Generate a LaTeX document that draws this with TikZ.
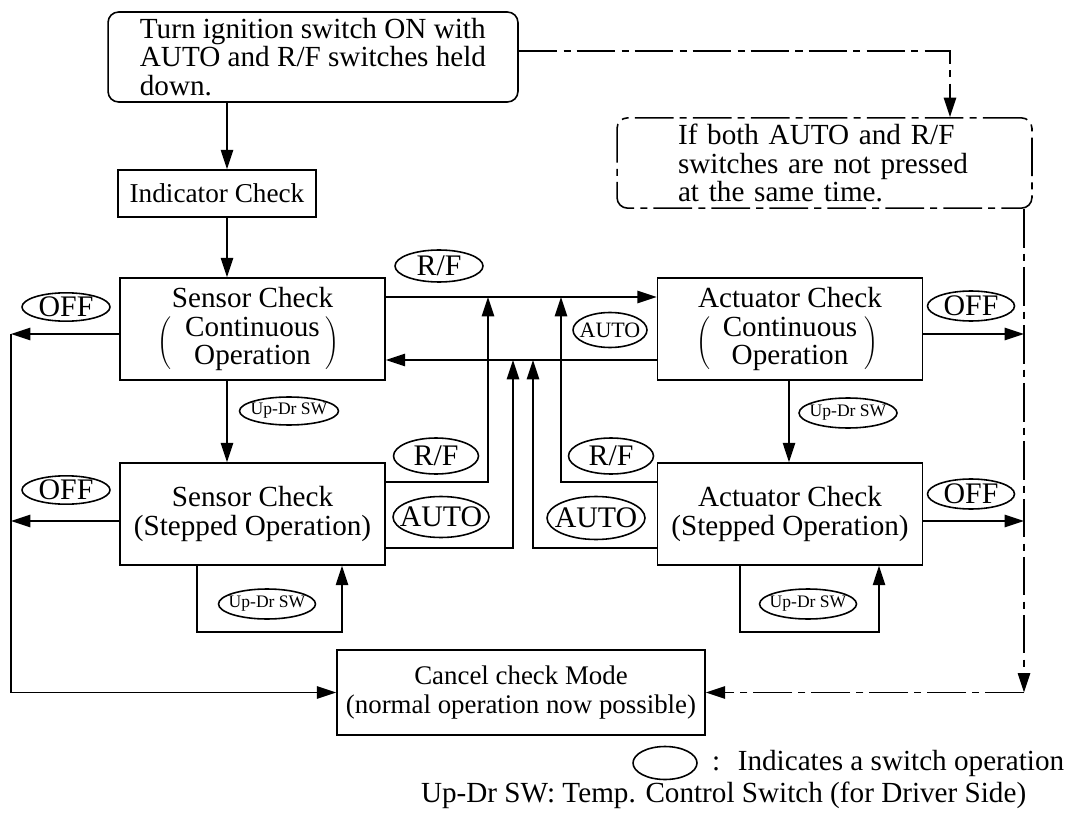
\documentclass[tikz,border=0pt]{standalone}
\usepackage{fontspec}
\setmainfont{Liberation Serif}
\usetikzlibrary{shapes.geometric}
\usetikzlibrary{arrows.meta}

\begin{document}
\begin{tikzpicture}[x=0.02cm,y=-0.02cm,>={Triangle[length=11pt,width=7pt]},line width=0.9pt,
font=\fontsize{16.6}{16.4}\selectfont,
box/.style={draw,rectangle,inner sep=0pt,minimum width=5.3cm,minimum height=2.04cm,align=center},
paren/.style={inner sep=0pt},
sw/.style 2 args={draw,ellipse,inner sep=0pt,minimum width=#1,minimum height=#2,font=\fontsize{17}{17}\selectfont},
chainline/.style={dash pattern=on 22pt off 3.5pt on 4pt off 3.5pt}]

\useasboundingbox (0,0) rectangle (1071,817);

% boxes
\node[draw,rounded corners=6pt,align=left,minimum width=8.2cm,minimum height=1.8cm] (start) at (313,57)
  {Turn ignition switch ON with\\AUTO and R/F switches held\\down.};
\node[draw,chainline,rounded corners=6pt,text width=5.86cm,inner xsep=1.22cm,minimum height=1.8cm,align=left] (nopress) at (824.5,163)
  {If both AUTO and R/F\\switches are not pressed\\at the same time.};
\node[draw,minimum width=3.96cm,minimum height=0.94cm,inner sep=0pt,font=\fontsize{15.5}{16}\selectfont] (ind) at (217,193.5) {Indicator Check};
\node[box] (sensorC) at (252.5,329) {Sensor Check\\Continuous\\Operation};
\node[box] (actC) at (790,329) {Actuator Check\\Continuous\\Operation};
\node[box] (sensorS) at (252.5,514) {Sensor Check\\(Stepped Operation)};
\node[box] (actS) at (790,514) {Actuator Check\\(Stepped Operation)};
\node[draw,minimum width=7.36cm,minimum height=1.7cm,inner sep=0pt,align=center,font=\fontsize{15.3}{16.4}\selectfont] (cancel) at (521,692.5)
  {Cancel check Mode\\(normal operation now possible)};

% tall brackets round "Continuous Operation"
\node[paren] (sensorCl) at (166,343) {$\left(\vcenter{\hbox{\rule{0pt}{29pt}}}\right.$};
\node[paren] (sensorCr) at (331,343) {$\left.\vcenter{\hbox{\rule{0pt}{29pt}}}\right)$};
\node[paren] (actCl) at (704,343) {$\left(\vcenter{\hbox{\rule{0pt}{29pt}}}\right.$};
\node[paren] (actCr) at (870,343) {$\left.\vcenter{\hbox{\rule{0pt}{29pt}}}\right)$};

% switch labels
\node[sw={1.76cm}{0.56cm}] (offA) at (66,307) {\makebox[0pt]{OFF}};
\node[sw={1.76cm}{0.56cm}] (offB) at (66,490) {\makebox[0pt]{OFF}};
\node[sw={1.74cm}{0.6cm}] (offC) at (971,306) {\makebox[0pt]{OFF}};
\node[sw={1.74cm}{0.6cm}] (offD) at (971,494) {\makebox[0pt]{OFF}};
\node[sw={1.76cm}{0.64cm}] (rfA) at (439,266) {\makebox[0pt]{R/F}};
\node[sw={1.7cm}{0.72cm}] (rfB) at (436,456) {\makebox[0pt]{R/F}};
\node[sw={1.7cm}{0.72cm}] (rfC) at (611,456) {\makebox[0pt]{R/F}};
\node[sw={1.48cm}{0.7cm},font=\fontsize{12.5}{13}\selectfont] (autoA) at (610,330) {\makebox[0pt]{AUTO}};
\node[sw={1.92cm}{0.82cm}] (autoB) at (441,517) {\makebox[0pt]{AUTO}};
\node[sw={1.96cm}{0.86cm}] (autoC) at (596,518) {\makebox[0pt]{AUTO}};
\node[sw={1.98cm}{0.56cm},font=\fontsize{10}{11}\selectfont] (udA) at (289,411) {\makebox[0pt]{Up-Dr SW}};
\node[sw={1.96cm}{0.6cm},font=\fontsize{10}{11}\selectfont] (udB) at (848,413) {\makebox[0pt]{Up-Dr SW}};
\node[sw={1.94cm}{0.6cm},font=\fontsize{10}{11}\selectfont] (udC) at (267,604) {\makebox[0pt]{Up-Dr SW}};
\node[sw={1.94cm}{0.6cm},font=\fontsize{10}{11}\selectfont] (udD) at (808,604) {\makebox[0pt]{Up-Dr SW}};

% legend
\node[sw={1.28cm}{0.66cm}] (legsw) at (665,763) {};
\node[anchor=east,inner sep=0pt] (legtxt) at (1065,763) {:\hspace{0.6em}Indicates a switch operation};
\node[anchor=east,inner sep=0pt] (legud) at (1027,795) {Up-Dr SW: Temp. Control Switch (for Driver Side)};

% guide points
\coordinate (colA) at (227,0);
\coordinate (colB) at (789,0);
\coordinate (rowTop) at (0,51);
\coordinate (rowT) at (0,297);
\coordinate (rowB) at (0,360);
\coordinate (rowOffA) at (0,334);
\coordinate (rowOffB) at (0,521);
\coordinate (rowRF) at (0,482);
\coordinate (rowAU) at (0,548);
\coordinate (lx) at (11,0);
\coordinate (rx) at (1024,0);
\coordinate (jog) at (950,0);
\coordinate (upA) at (488,0);
\coordinate (upB) at (513,0);
\coordinate (upC) at (533,0);
\coordinate (upD) at (561,0);
\coordinate (loopY) at (0,632);
\coordinate (lpA) at (197,0);
\coordinate (lpB) at (342,0);
\coordinate (lpC) at (740,0);
\coordinate (lpD) at (879,0);

% main flow
\draw[->] (start.south -| colA) -- (ind.north -| colA);
\draw[->] (ind.south -| colA) -- (sensorC.north -| colA);
\draw[->] (sensorC.south -| colA) -- (sensorS.north -| colA);
\draw[->] (actC.south -| colB) -- (actS.north -| colB);
\draw[->] (sensorC.east |- rowT) -- (actC.west |- rowT);
\draw[->] (actC.west |- rowB) -- (sensorC.east |- rowB);

% stepped -> continuous
\draw[->] (sensorS.east |- rowRF) -| (upA |- rowT);
\draw[->] (sensorS.east |- rowAU) -| (upB |- rowB);
\draw[->] (actS.west |- rowAU) -| (upC |- rowB);
\draw[->] (actS.west |- rowRF) -| (upD |- rowT);

% loops
\draw[->] (sensorS.south -| lpA) |- (lpB |- loopY) -- (sensorS.south -| lpB);
\draw[->] (actS.south -| lpC) |- (lpD |- loopY) -- (actS.south -| lpD);

% OFF
\draw[->] (sensorC.west |- rowOffA) -- (lx |- rowOffA);
\draw[->] (sensorS.west |- rowOffB) -- (lx |- rowOffB);
\draw[->] (lx |- rowOffA) |- (cancel.west);
\draw[->] (actC.east |- rowOffA) -- (rx |- rowOffA);
\draw[->] (actS.east |- rowOffB) -- (rx |- rowOffB);

% not pressed
\draw[chainline,->] (start.east |- rowTop) -| (jog |- nopress.north);
\draw[chainline,->] (nopress.south -| rx) -- (rx |- cancel.east);
\draw[chainline,->] (rx |- cancel.east) -- (cancel.east);
\end{tikzpicture}
\end{document}
